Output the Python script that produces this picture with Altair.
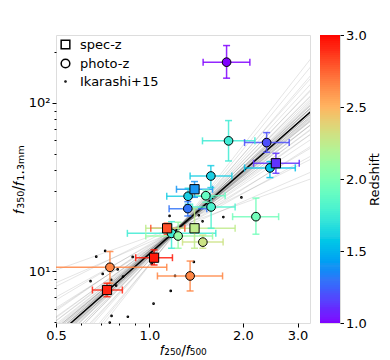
import altair as alt
import pandas as pd
import numpy as np

# ---------------- data ----------------
kind = ["photo-z", "photo-z", "photo-z", "spec-z", "photo-z", "photo-z", "spec-z",
        "photo-z", "photo-z", "photo-z", "photo-z", "photo-z", "spec-z", "spec-z",
        "photo-z", "photo-z", "photo-z", "spec-z", "photo-z", "photo-z", "spec-z"]
redshift = [1.00, 1.75, 1.20, 1.12, 1.55, 1.60, 1.40, 1.60, 1.90, 1.30, 1.80,
            1.95, 2.80, 2.25, 1.75, 2.10, 2.30, 2.95, 2.65, 2.65, 2.92]
ratio_x = [1.772, 1.798, 2.385, 2.555, 2.444, 1.577, 1.397, 1.332, 1.519, 1.329, 1.580,
           2.203, 1.140, 1.397, 1.178, 1.237, 1.486, 1.035, 0.746, 1.352, 0.730]
x_lo = [1.489, 1.482, 2.025, 2.165, 2.025, 1.352, 1.222, 1.137, 1.319, 1.157, 1.376,
        1.853, 1.010, 0.973, 0.849, 0.973, 1.278, 0.903, 0.400, 1.061, 0.655]
x_hi = [2.106, 2.186, 2.820, 3.038, 2.950, 1.843, 1.597, 1.569, 1.753, 1.530, 1.888,
        2.607, 1.300, 1.888, 1.636, 1.597, 1.727, 1.186, 1.137, 1.720, 0.818]
ratio_y = [174.5, 59.5, 58.1, 43.8, 41.1, 36.8, 30.7, 27.9, 28.1, 23.55, 24.1,
           21.1, 18.0, 18.0, 16.8, 16.2, 14.9, 12.04, 10.56, 9.38, 7.74]
y_lo = [140.2, 45.2, 50.9, 38.2, 36.0, 31.4, 27.5, 25.0, 25.7, 21.3, 18.0,
        16.6, 16.6, 13.7, 13.7, 13.7, 13.7, 10.9, 8.49, 7.64, 7.06]
y_hi = [219.0, 78.5, 66.6, 50.2, 44.8, 42.4, 34.1, 31.1, 30.4, 25.9, 27.5,
        27.2, 19.3, 23.55, 19.7, 19.55, 16.4, 13.4, 13.1, 11.5, 8.49]

ika_x = [1.978, 1.730, 1.442, 1.483, 1.161, 1.390, 1.209, 1.171, 1.031, 0.883, 0.720,
         0.674, 0.707, 0.753, 0.822, 0.646, 0.781, 0.790, 1.017, 0.755, 0.852, 0.745]
ika_y = [27.45, 21.0, 21.5, 19.8, 21.3, 11.36, 9.38, 7.64, 6.42, 12.16, 13.2,
         12.2, 9.64, 8.88, 9.29, 8.73, 8.23, 10.25, 11.1, 5.43, 5.37, 4.96]

# best fit: y = fit_norm * x ** fit_slope
fit_norm = 12.7
fit_slope = 1.625
# bootstrap fan: lines through (pivot_x, fan_pivot_y) with these slopes
pivot_x = 1.25
fan_slope = [0.66, 0.80, 0.92, 1.02, 1.10, 1.17, 1.23, 1.28, 1.32, 1.36, 1.39, 1.42,
             1.44, 1.46, 1.48, 1.50, 1.51, 1.52, 1.53, 1.54, 1.55, 1.56, 1.57, 1.58,
             1.59, 1.60, 1.61, 1.62, 1.63, 1.64, 1.65, 1.66, 1.67, 1.68, 1.69, 1.70,
             1.71, 1.72, 1.74, 1.76, 1.78, 1.80, 1.83, 1.86, 1.90, 1.95, 2.01, 2.08,
             2.16, 2.26, 2.36]
fan_pivot_y = [18.6, 17.8, 18.9, 17.9, 18.5, 17.7, 18.3, 18.8, 18.0, 18.4, 18.1, 18.7,
               18.2, 17.9, 18.5, 18.1, 18.3, 18.0, 18.6, 18.2, 17.9, 18.8, 18.1, 18.4,
               17.8, 18.7, 18.0, 18.5, 17.6, 19.0, 17.8, 18.3, 18.4, 18.1, 18.6, 17.9,
               18.3, 18.5, 18.0, 18.2, 18.7, 17.9, 18.4, 18.1, 18.6, 18.0, 18.3, 18.5,
               17.8, 18.2, 18.4]

XDOM = [0.5, 3.29]
YDOM = [4.93, 253]
ZDOM = [1.0, 3.0]
cbar_ticks = [1.0, 1.5, 2.0, 2.5, 3.0]

# ---------------- tables ----------------
pts = pd.DataFrame(dict(type=kind, z=redshift, x=ratio_x, xlo=x_lo, xhi=x_hi,
                        y=ratio_y, ylo=y_lo, yhi=y_hi))
ika = pd.DataFrame(dict(x=ika_x, y=ika_y, type="Ikarashi+15"))

ends = [0.45, 3.6]
fan_rows = []
for i, (s, p) in enumerate(zip(fan_slope, fan_pivot_y)):
    for xe in ends:
        fan_rows.append(dict(id=i, x=xe, y=p * (xe / pivot_x) ** s))
fan = pd.DataFrame(fan_rows)
fit = pd.DataFrame(dict(x=ends, y=[fit_norm * xe ** fit_slope for xe in ends]))

# matplotlib "rainbow" colour stops
t = np.linspace(0, 1, 21)
stops = []
for v in t:
    r = min(1.0, abs(2 * v - 0.5)); g = np.sin(np.pi * v); b = np.cos(np.pi * v / 2)
    stops.append("#%02x%02x%02x" % (int(round(r * 255)), int(round(g * 255)), int(round(max(b, 0) * 255))))
cdom = [float(ZDOM[0] + (ZDOM[1] - ZDOM[0]) * v) for v in t]

# colour-bar strip (a gradient, 144 slices)
edges = np.linspace(ZDOM[0], ZDOM[1], 145)
cbar = pd.DataFrame(dict(z0=edges[:-1], z1=edges[1:], z=(edges[:-1] + edges[1:]) / 2))

FONT = "DejaVu Sans"
major_x = "datum.value == 0.5 || datum.value == 1 || datum.value == 2 || datum.value == 3"
major_y = "datum.value == 10 || datum.value == 100"

xscale = alt.Scale(type="log", domain=XDOM, nice=False)
yscale = alt.Scale(type="log", domain=YDOM, nice=False)

X = alt.X("x:Q", scale=xscale, title="𝑓₂₅₀/𝑓₅₀₀",
          axis=alt.Axis(values=[0.5, 0.6, 0.7, 0.8, 0.9, 1, 2, 3], grid=False, domain=False,
                        labelExpr="(" + major_x + ") ? format(datum.value, '.1f') : ''",
                        tickSize={"condition": {"test": major_x, "value": 4}, "value": 2},
                        tickColor="black", labelFontSize=13, titleFontSize=14,
                        titleFontWeight="normal", labelOverlap=False, labelFlush=False,
                        labelColor="black", titleColor="black", labelPadding=2, titlePadding=1))
Y = alt.Y("y:Q", scale=yscale, title="𝑓₃₅₀/𝑓₁.₃ₘₘ",
          axis=alt.Axis(values=[5, 6, 7, 8, 9, 10, 20, 30, 40, 50, 60, 70, 80, 90, 100, 200],
                        grid=False, domain=False,
                        labelExpr="datum.value == 10 ? '10¹' : datum.value == 100 ? '10²' : ''",
                        tickSize={"condition": {"test": major_y, "value": 4}, "value": 2},
                        tickColor="black", labelFontSize=13, titleFontSize=15,
                        titleFontWeight="normal", labelOverlap=False, labelFlush=False,
                        labelColor="black", titleColor="black", labelPadding=2, titlePadding=2))

cscale = alt.Scale(domain=cdom, range=stops)
color = alt.Color("z:Q", scale=cscale, legend=None)

TYPES = ["spec-z", "photo-z", "Ikarashi+15"]
DOT = "M -0.13 0 A 0.13 0.13 0 1 1 0.13 0 A 0.13 0.13 0 1 1 -0.13 0 Z"
shape = alt.Shape("type:N", scale=alt.Scale(domain=TYPES, range=["square", "circle", DOT]),
                  legend=alt.Legend(title=None, orient="top-left", offset=3,
                                    labelFontSize=13, labelColor="black", symbolSize=75,
                                    rowPadding=4, labelOffset=8, padding=0))

fan_l = alt.Chart(fan).mark_line(clip=True, color="#333333", opacity=0.13, strokeWidth=1).encode(
    x=alt.X("x:Q", scale=xscale), y=alt.Y("y:Q", scale=yscale), detail="id:N")
fit_l = alt.Chart(fit).mark_line(clip=True, color="black", strokeWidth=1.5).encode(
    x=alt.X("x:Q", scale=xscale), y=alt.Y("y:Q", scale=yscale))
ika_l = alt.Chart(ika).mark_point(filled=False, color="black", strokeWidth=1.6, size=75,
                                  opacity=1).encode(x=X, y=Y, shape=shape)

eb = alt.Chart(pts)
rk = dict(clip=True, strokeWidth=1.5, opacity=0.85)
xerr = eb.mark_rule(**rk).encode(
    x=alt.X("xlo:Q", scale=xscale), x2="xhi:Q", y=alt.Y("y:Q", scale=yscale), color=color)
yerr = eb.mark_rule(**rk).encode(
    x=alt.X("x:Q", scale=xscale), y=alt.Y("ylo:Q", scale=yscale), y2="yhi:Q", color=color)
cx1 = eb.mark_rule(yOffset=-3.5, y2Offset=3.5, **rk).encode(
    x=alt.X("xlo:Q", scale=xscale), y=alt.Y("y:Q", scale=yscale), y2="y:Q", color=color)
cx2 = eb.mark_rule(yOffset=-3.5, y2Offset=3.5, **rk).encode(
    x=alt.X("xhi:Q", scale=xscale), y=alt.Y("y:Q", scale=yscale), y2="y:Q", color=color)
cy1 = eb.mark_rule(xOffset=-3.5, x2Offset=3.5, **rk).encode(
    x=alt.X("x:Q", scale=xscale), x2="x:Q", y=alt.Y("ylo:Q", scale=yscale), color=color)
cy2 = eb.mark_rule(xOffset=-3.5, x2Offset=3.5, **rk).encode(
    x=alt.X("x:Q", scale=xscale), x2="x:Q", y=alt.Y("yhi:Q", scale=yscale), color=color)

circ = alt.Chart(pts).transform_filter("datum.type == 'photo-z'").mark_point(
    shape="circle", size=75, filled=True, stroke="black", strokeWidth=1, opacity=1).encode(
    x=X, y=Y, color=color)
sq = alt.Chart(pts).transform_filter("datum.type == 'spec-z'").mark_point(
    shape="square", size=85, filled=True, stroke="black", strokeWidth=1, opacity=1).encode(
    x=X, y=Y, color=color)

main = alt.layer(fan_l, fit_l, ika_l, xerr, yerr, cx1, cx2, cy1, cy2, circ, sq).properties(
    width=254, height=288)

bar = alt.Chart(cbar).mark_rect(stroke=None, strokeWidth=0).encode(
    x=alt.value(0), x2=alt.value(20),
    y=alt.Y("z0:Q", scale=alt.Scale(domain=ZDOM, nice=False), title="Redshift",
            axis=alt.Axis(orient="right", values=cbar_ticks, format=".1f", grid=False,
                          domain=False, tickSize=3.5, tickColor="black", labelFontSize=13,
                          labelColor="black", labelPadding=2, titleFontSize=13,
                          titleFontWeight="normal", titleColor="black", titleAngle=270,
                          titleBaseline="top", titlePadding=2)),
    y2="z1:Q",
    color=color,
).properties(width=20, height=288)

chart = alt.hconcat(main, bar, spacing=8).properties(
    padding={"left": 2, "top": 20, "right": 0, "bottom": 0}
).configure_view(stroke="black", strokeWidth=1).configure(font=FONT).configure_axis(
    labelFont=FONT, titleFont=FONT).configure_legend(labelFont=FONT, titleFont=FONT)

chart.save("out.html", embed_options={"renderer": "svg", "actions": False})
